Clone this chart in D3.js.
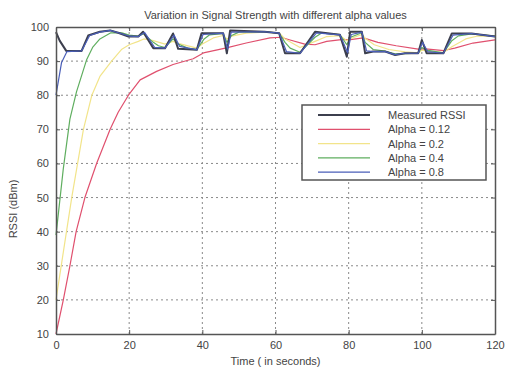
<!DOCTYPE html>
<html>
<head>
<meta charset="utf-8">
<script src="https://cdn.jsdelivr.net/npm/d3@7"></script>
<style>
  body { margin: 0; background: #fff; }
  text { font-family: "Liberation Sans", Arial, sans-serif; fill: #444; }
</style>
</head>
<body>
<div id="chart"></div>
<script>
// Values (time in seconds, RSSI in dBm)
var xTicks = [0, 20, 40, 60, 80, 100, 120];
var yTicks = [10, 20, 30, 40, 50, 60, 70, 80, 90, 100];
var seriesNames = ["Measured RSSI", "Alpha = 0.12", "Alpha = 0.2", "Alpha = 0.4", "Alpha = 0.8"];
var seriesColors = ["#3c3f4e", "#e0506e", "#f2e48a", "#5fae5f", "#4a5eb8"];

var measuredTime = [0, 1, 2.8, 7, 8.8, 12, 14.8, 17, 19.8, 22.5, 23.8, 26.6, 29.8, 32, 33.4, 38.5, 39.8, 45.7, 46.7, 47.6, 57, 61, 62.6, 66.7, 70.8, 77.6, 79.5, 80.4, 83.6, 84.5, 86.7, 90, 92.7, 95.4, 99, 100, 101.3, 105.9, 108.2, 113.6, 120];
var measuredRssi = [98.5, 96, 93, 93, 97.5, 98.6, 99, 98.3, 97.2, 97.2, 98.6, 93.8, 93.8, 98.1, 93.6, 93.3, 98.2, 98.2, 92.3, 99, 98.6, 98.2, 92.3, 92.3, 98.6, 97.7, 91.3, 98.6, 98.6, 92.3, 92.8, 92.8, 91.8, 92.3, 92.3, 96.2, 92.3, 92.3, 98.1, 98.1, 97.2];

var a12Time = [0, 2, 3.8, 5.5, 7.9, 11.1, 14.8, 17, 19.8, 23, 27.5, 32, 37.5, 40.3, 46.6, 52, 58.5, 61.5, 64, 68, 70.8, 74, 78, 80.5, 84, 88, 93, 99, 101, 106, 109, 114, 120];
var a12Rssi = [10, 20, 30, 40, 50, 60, 70, 75, 80, 84.5, 87, 89, 90.7, 92.4, 93.9, 95.3, 96.8, 97, 96.2, 95, 94.8, 95.8, 96.3, 96.3, 96.8, 95.5, 94.5, 93.5, 93.6, 93.1, 93.8, 95.3, 96.2];

var a2Time = [0, 2, 4.3, 7.5, 9.8, 12, 15.2, 18, 20, 22.5, 24, 26.6, 29.8, 32, 33.4, 38.5, 40, 43, 45.7, 46.7, 48, 52, 57, 61, 62.6, 66.7, 70.8, 74, 77.6, 79.5, 80.5, 83.6, 84.5, 87, 91, 95.4, 99, 100, 101.3, 105.9, 108.2, 112, 115, 120];
var a2Rssi = [20, 34, 50, 70, 80, 85.5, 90, 93.5, 94.8, 95.8, 96.5, 96, 95, 95.8, 95.2, 93.8, 95, 96.8, 97.5, 96.5, 97.3, 98.2, 98.5, 98.3, 96.5, 94, 95.8, 97.2, 97.5, 96, 96.6, 97.8, 96.7, 94.8, 93.4, 92.7, 92.4, 93.2, 93, 92.5, 94.2, 96.5, 97.3, 97.3];

var a4Time = [0, 2, 3.8, 5.6, 8.4, 10, 12, 15, 18, 20, 22.5, 24, 26.6, 28, 29.8, 32, 33.4, 36, 38.5, 40.5, 42, 45.7, 46.7, 48, 50, 57, 61, 62.6, 64, 66.7, 70.8, 72.5, 77.6, 79.5, 80.5, 83.6, 84.5, 86.7, 90, 92.7, 95.4, 99, 100, 101.3, 105.9, 108.2, 110, 113.6, 120];
var a4Rssi = [39, 58.5, 73, 81, 90.5, 94, 96.5, 98.3, 98.3, 97.6, 97.3, 98, 95.5, 94.5, 94, 96.5, 95, 93.8, 93.4, 96.5, 97.7, 98.1, 95.5, 97.5, 98.5, 98.6, 98.2, 95.5, 93.8, 92.6, 97, 98.2, 97.8, 94.8, 97, 98.3, 95.5, 93.4, 92.9, 92.1, 92.2, 92.3, 94, 93.2, 92.4, 96, 97.4, 98, 97.3];

var a8Time = [0, 1.5, 3, 7, 9.2, 12, 14.8, 17, 20.2, 22.5, 24.2, 27, 29.8, 32.3, 33.8, 38.5, 40.2, 45.7, 46.9, 47.9, 57, 61, 63, 66.7, 71.2, 77.6, 79.7, 80.7, 83.6, 84.9, 86.7, 90, 92.7, 95.4, 99, 100.2, 101.6, 105.9, 108.5, 113.6, 120];
var a8Rssi = [80, 89.5, 92.8, 93, 97.5, 98.5, 99, 98.3, 97.3, 97.2, 98.4, 94, 93.8, 97.6, 94.3, 93.3, 97.8, 98.2, 93.5, 98.5, 98.6, 98.2, 92.8, 92.3, 98.3, 97.7, 92.5, 97.8, 98.5, 93, 92.8, 92.8, 91.9, 92.3, 92.3, 95.5, 92.8, 92.3, 97.6, 98.1, 97.2];

var W = 505, H = 368;
var margin = { left: 56, right: 10, top: 27, bottom: 34 };
var innerW = W - margin.left - margin.right;
var innerH = H - margin.top - margin.bottom;

var svg = d3.select("#chart").append("svg")
    .attr("width", W)
    .attr("height", H);

var xScale = d3.scaleLinear().domain([0, 120]).range([margin.left, margin.left + innerW]);
var yScale = d3.scaleLinear().domain([10, 100]).range([margin.top + innerH, margin.top]);

// dotted grid
svg.append("g")
    .selectAll("line.vx")
    .data(xTicks.slice(1, -1))
    .join("line")
    .attr("x1", d => xScale(d)).attr("x2", d => xScale(d))
    .attr("y1", margin.top).attr("y2", margin.top + innerH)
    .attr("stroke", "#8a8a8a").attr("stroke-width", 1)
    .attr("stroke-dasharray", "2,3");
svg.append("g")
    .selectAll("line.hy")
    .data(yTicks.slice(1, -1))
    .join("line")
    .attr("x1", margin.left).attr("x2", margin.left + innerW)
    .attr("y1", d => yScale(d)).attr("y2", d => yScale(d))
    .attr("stroke", "#8a8a8a").attr("stroke-width", 1)
    .attr("stroke-dasharray", "2,3");

// series lines
var line = d3.line()
    .x(d => xScale(d[0]))
    .y(d => yScale(d[1]));

function pairs(t, v) { return t.map((d, i) => [d, v[i]]); }

var series = [
    { data: pairs(a12Time, a12Rssi), color: seriesColors[1], w: 1.2 },
    { data: pairs(a2Time, a2Rssi), color: seriesColors[2], w: 1.2 },
    { data: pairs(a4Time, a4Rssi), color: seriesColors[3], w: 1.2 },
    { data: pairs(measuredTime, measuredRssi), color: seriesColors[0], w: 2 },
    { data: pairs(a8Time, a8Rssi), color: seriesColors[4], w: 1.2 }
];

svg.append("g")
    .selectAll("path")
    .data(series)
    .join("path")
    .attr("d", d => line(d.data))
    .attr("fill", "none")
    .attr("stroke", d => d.color)
    .attr("stroke-width", d => d.w)
    .attr("stroke-linejoin", "round");

// axes (MATLAB style box, inward ticks)
var xAxis = d3.axisBottom(xScale).tickValues(xTicks).tickSizeInner(-4).tickSizeOuter(0).tickPadding(7);
var yAxis = d3.axisLeft(yScale).tickValues(yTicks).tickSizeInner(-4).tickSizeOuter(0).tickPadding(7);

var gx = svg.append("g")
    .attr("transform", `translate(0, ${margin.top + innerH})`)
    .call(xAxis);
var gy = svg.append("g")
    .attr("transform", `translate(${margin.left}, 0)`)
    .call(yAxis);

svg.append("g")
    .attr("transform", `translate(0, ${margin.top})`)
    .call(d3.axisTop(xScale).tickValues(xTicks).tickSizeInner(-4).tickSizeOuter(0).tickFormat(""));
svg.append("g")
    .attr("transform", `translate(${margin.left + innerW}, 0)`)
    .call(d3.axisRight(yScale).tickValues(yTicks).tickSizeInner(-4).tickSizeOuter(0).tickFormat(""));

svg.selectAll(".domain").attr("stroke", "#555").attr("stroke-width", 1.5);
svg.selectAll(".tick line").attr("stroke", "#555");
svg.selectAll(".tick text")
    .attr("font-size", 11)
    .attr("font-family", '"Liberation Sans", Arial, sans-serif')
    .attr("fill", "#555");

// title and axis labels
svg.append("text")
    .attr("x", (margin.left + margin.left + innerW) / 2)
    .attr("y", 19)
    .attr("text-anchor", "middle")
    .attr("font-size", 11)
    .text("Variation in Signal Strength with different alpha values");

svg.append("text")
    .attr("x", (margin.left + margin.left + innerW) / 2)
    .attr("y", 365)
    .attr("text-anchor", "middle")
    .attr("font-size", 11)
    .text("Time ( in seconds)");

svg.append("text")
    .attr("transform", "translate(17, 209) rotate(-90)")
    .attr("text-anchor", "middle")
    .attr("font-size", 11)
    .text("RSSI (dBm)");

// legend
var legend = svg.append("g").attr("transform", "translate(302, 105)");
legend.append("rect")
    .attr("width", 184).attr("height", 75)
    .attr("fill", "#fff")
    .attr("stroke", "#555").attr("stroke-width", 1.5);

var item = legend.selectAll("g.item")
    .data(seriesNames)
    .join("g")
    .attr("transform", (d, i) => `translate(0, ${10 + i * 14.3})`);
item.append("line")
    .attr("x1", 16).attr("x2", 68)
    .attr("stroke", (d, i) => seriesColors[i])
    .attr("stroke-width", (d, i) => i === 0 ? 2 : 1.2);
item.append("text")
    .attr("x", 86).attr("y", 4)
    .attr("font-size", 11)
    .text(d => d);
</script>
</body>
</html>
